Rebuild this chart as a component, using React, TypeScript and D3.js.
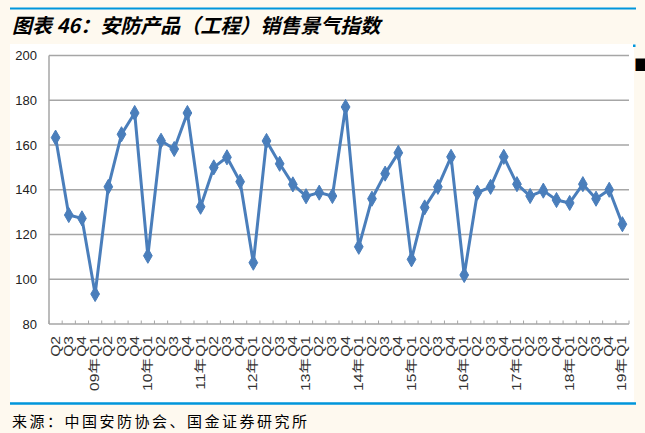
import React from "react";
import * as d3 from "d3";

const years = ["08", "09", "10", "11", "12", "13", "14", "15", "16", "17", "18", "19"];
const quarterLabels = [
  "Q2", "Q3", "Q4",
  "Q1", "Q2", "Q3", "Q4",
  "Q1", "Q2", "Q3", "Q4",
  "Q1", "Q2", "Q3", "Q4",
  "Q1", "Q2", "Q3", "Q4",
  "Q1", "Q2", "Q3", "Q4",
  "Q1", "Q2", "Q3", "Q4",
  "Q1", "Q2", "Q3", "Q4",
  "Q1", "Q2", "Q3", "Q4",
  "Q1", "Q2", "Q3", "Q4",
  "Q1", "Q2", "Q3", "Q4",
  "Q1",
];
const values = [
  163.3, 128.7, 127.2,
  93.4, 141.3, 164.8, 174.3,
  110.5, 161.9, 158.2, 174.3,
  132.4, 150.0, 154.5, 143.6,
  107.4, 161.8, 151.6, 142.4,
  137.1, 138.7, 137.2, 177.0,
  114.5, 136.0, 147.2, 156.5,
  108.9, 132.1, 141.3, 154.7,
  101.9, 138.7, 141.3, 154.7,
  142.5, 137.2, 139.6, 135.4,
  134.1, 142.5, 136.0, 140.0,
  124.6,
];
const yTicks = [80, 100, 120, 140, 160, 180, 200];
const title = "图表 46：安防产品（工程）销售景气指数";
const source = "来源：中国安防协会、国金证券研究所";

export default function App() {
  const W = 645, H = 433;
  const left = 49, right = 629, top = 55.5, bottom = 324;
  const idx = quarterLabels.map((_, i) => i);
  const x = d3.scaleBand<number>().domain(idx).range([left, right]);
  const y = d3.scaleLinear().domain([80, 200]).range([bottom, top]);
  const cx = (i: number) => (x(i) as number) + x.bandwidth() / 2;
  const line = d3.line<number>().x((_, i) => cx(i)).y((v) => y(v));
  const diamond = d3.symbol().type(d3.symbolDiamond).size(66)();

  const yearLabels: { i: number; label: string }[] = [];
  let yr = 0;
  quarterLabels.forEach((q, i) => {
    if (q === "Q1") {
      yr += 1;
      yearLabels.push({ i, label: years[yr] + "年" });
    }
  });

  const axisFont = "'Liberation Sans', Arial, 'Noto Sans CJK SC', sans-serif";

  return (
    <div style={{ position: "absolute", left: 0, top: 0 }}>
      <svg width={W} height={H} style={{ display: "block" }}>
        <rect x={0} y={0} width={W} height={H} fill="#fef9ef" />
        <line x1={10} x2={636} y1={8.5} y2={8.5} stroke="#0096dc" strokeWidth={2} />
        <text
          x={12}
          y={33}
          fontSize={20}
          fontWeight="bold"
          fontStyle="italic"
          fontFamily="'Noto Sans CJK SC', sans-serif"
          fill="#000"
        >
          {title}
        </text>
        <rect x={10} y={44} width={624} height={358} fill="#ffffff" />
        <rect x={633} y={44.5} width={2.5} height={2.5} fill="#0096dc" />
        <rect x={636} y={58.5} width={12} height={12.5} fill="#000" />
        <line x1={635.5} x2={635.5} y1={58.5} y2={71} stroke="#c07030" strokeWidth={1} />

        {yTicks.filter((t) => t > 80).map((t) => (
          <line key={t} x1={left} x2={right} y1={y(t)} y2={y(t)} stroke="#a6a6a6" strokeWidth={1.5} />
        ))}
        <line x1={left} x2={left} y1={top} y2={bottom} stroke="#a6a6a6" strokeWidth={1.5} />
        <line x1={left} x2={right} y1={bottom} y2={bottom} stroke="#a6a6a6" strokeWidth={1.5} />
        {idx.concat([idx.length]).map((i) => {
          const xx = left + i * x.step();
          return <line key={"t" + i} x1={xx} x2={xx} y1={bottom} y2={bottom - 3.5} stroke="#a6a6a6" strokeWidth={1} />;
        })}
        {yTicks.map((t) => (
          <text
            key={"yl" + t}
            x={37}
            y={y(t)}
            dy="0.35em"
            textAnchor="end"
            fontSize={13}
            fontFamily={axisFont}
            fill="#222"
          >
            {t}
          </text>
        ))}
        {quarterLabels.map((q, i) => (
          <text
            key={"q" + i}
            transform={`translate(${cx(i) + 4},${336}) rotate(-90) scale(1.3,1)`}
            textAnchor="end"
            fontSize={12}
            fontFamily={axisFont}
            fill="#333"
          >
            {q}
          </text>
        ))}
        {yearLabels.map((d) => (
          <text
            key={"y" + d.i}
            transform={`translate(${cx(d.i) + 4},${358}) rotate(-90) scale(1.3,1)`}
            textAnchor="end"
            fontSize={12}
            fontFamily={axisFont}
            fill="#333"
          >
            {d.label}
          </text>
        ))}

        <path d={line(values) || ""} fill="none" stroke="#4a7ebb" strokeWidth={3} strokeLinejoin="round" />
        {values.map((v, i) => (
          <path key={"m" + i} d={diamond || ""} transform={`translate(${cx(i)},${y(v)})`} fill="#4a7ebb" stroke="#4a7ebb" strokeWidth={1} />
        ))}

        <line x1={10} x2={636} y1={403.5} y2={403.5} stroke="#0096dc" strokeWidth={2.5} />
        <text
          x={12}
          y={427}
          fontSize={15}
          letterSpacing={2.5}
          fontFamily="'Noto Sans CJK SC', serif"
          fill="#000"
        >
          {source}
        </text>
      </svg>
    </div>
  );
}
